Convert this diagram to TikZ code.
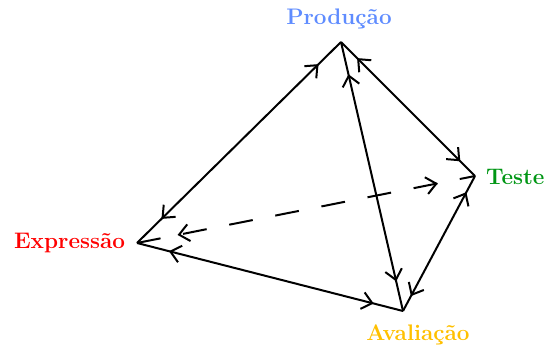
\documentclass[tikz,border=0pt]{standalone}
\usepackage{tikz}
\usepackage{xcolor}
\usetikzlibrary{arrows.meta,decorations.markings}
\definecolor{prodblue}{RGB}{95,140,255}
\definecolor{testgreen}{RGB}{0,150,20}
\definecolor{exprred}{RGB}{255,0,0}
\definecolor{avalyellow}{RGB}{255,192,0}
\begin{document}
\begin{tikzpicture}[x=1pt,y=-1pt,line width=2pt,
                    tip/.tip={Straight Barb[length=10pt,width=17pt,line width=2pt]},
                    biarrow/.style={decoration={markings,
                        mark=at position 0.12 with {\arrowreversed{tip}},
                        mark=at position 0.89 with {\arrow{tip}}},
                        postaction={decorate}},
                    vertexlabel/.style={font=\fontsize{22.5}{27}\selectfont\bfseries,inner sep=0pt}]
                    \useasboundingbox (0,0) rectangle (546,352);
                    \coordinate (prod) at (341,42);
                    \coordinate (teste) at (475,176);
                    \coordinate (expr) at (137,243);
                    \coordinate (aval) at (403,311);
                    \node[vertexlabel,text=prodblue] (prodlabel) at (339,19) {Produção};
                    \node[vertexlabel,text=testgreen,anchor=west] (testelabel) at (485,177) {Teste};
                    \node[vertexlabel,text=exprred,anchor=east] (exprlabel) at (126,243) {Expressão};
                    \node[vertexlabel,text=avalyellow] (avallabel) at (418,335) {Avaliação};
                    \draw[biarrow] (expr) -- (prod);
                    \draw[biarrow] (prod) -- (teste);
                    \draw[biarrow] (prod) -- (aval);
                    \draw[biarrow] (teste) -- (aval);
                    \draw[biarrow] (expr) -- (aval);
                    \draw[biarrow,dash pattern=on 24pt off 23pt] (expr) -- (teste);
                \end{tikzpicture}
\end{document}
